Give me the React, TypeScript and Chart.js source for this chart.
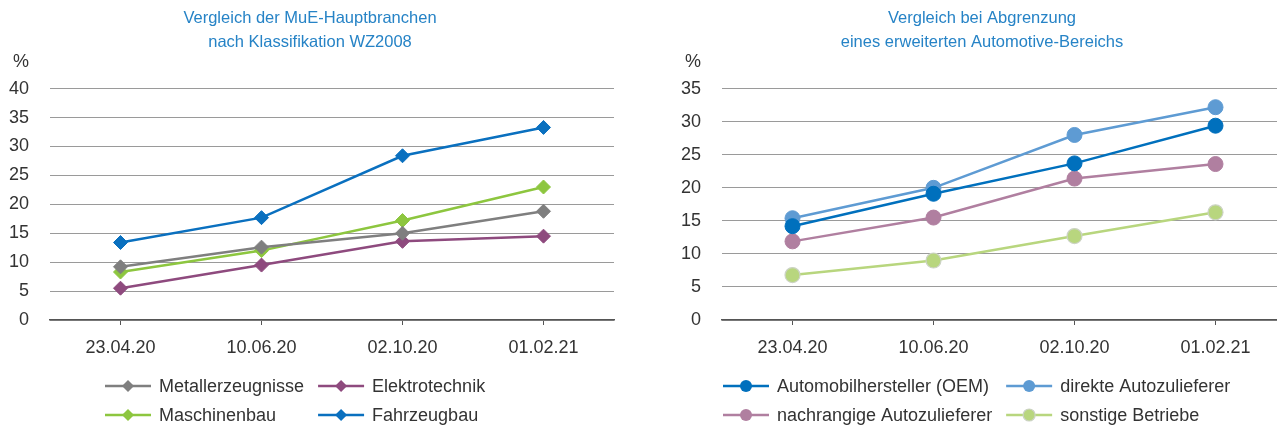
import React, { useEffect, useRef } from 'react';
import { Chart, registerables } from 'chart.js';

Chart.register(...registerables);

const dates = ['23.04.20', '10.06.20', '02.10.20', '01.02.21'];

const titleLeft = ['Vergleich der MuE-Hauptbranchen', 'nach Klassifikation WZ2008'];
const titleRight = ['Vergleich bei Abgrenzung', 'eines erweiterten Automotive-Bereichs'];

const leftMax = 40;
const rightMax = 35;
const tickStep = 5;
const unitLabel = '%';

const metallerzeugnisse = [9.2, 12.6, 15.0, 18.8];
const elektrotechnik = [5.5, 9.5, 13.6, 14.5];
const maschinenbau = [8.3, 12.0, 17.2, 23.0];
const fahrzeugbau = [13.4, 17.7, 28.4, 33.3];

const oem = [14.2, 19.1, 23.7, 29.4];
const direkte = [15.4, 20.0, 28.0, 32.2];
const nachrangige = [11.9, 15.5, 21.4, 23.6];
const sonstige = [6.8, 9.0, 12.7, 16.3];

const FONT = "'Liberation Sans', Arial, Helvetica, sans-serif";
const TEXT = '#333333';
const TITLE = '#2683C6';

type SeriesDef = { label: string; data: number[]; color: string; pointBorder?: string };

const leftSeries: SeriesDef[] = [
  { label: 'Metallerzeugnisse', data: metallerzeugnisse, color: '#7F7F7F' },
  { label: 'Elektrotechnik', data: elektrotechnik, color: '#8E4A7E' },
  { label: 'Maschinenbau', data: maschinenbau, color: '#8DC63F' },
  { label: 'Fahrzeugbau', data: fahrzeugbau, color: '#0A70BF' },
];

const rightSeries: SeriesDef[] = [
  { label: 'Automobilhersteller (OEM)', data: oem, color: '#0070BD' },
  { label: 'direkte Autozulieferer', data: direkte, color: '#5E9BD3' },
  { label: 'nachrangige Autozulieferer', data: nachrangige, color: '#B07FA0' },
  { label: 'sonstige Betriebe', data: sonstige, color: '#B8D67E', pointBorder: '#CCD3C4' },
];

function drawMarker(ctx: CanvasRenderingContext2D, style: string, x: number, y: number, r: number, color: string, border?: string) {
  ctx.beginPath();
  if (style === 'rectRot') {
    ctx.moveTo(x, y - r);
    ctx.lineTo(x + r, y);
    ctx.lineTo(x, y + r);
    ctx.lineTo(x - r, y);
    ctx.closePath();
  } else {
    ctx.arc(x, y, r, 0, Math.PI * 2);
  }
  ctx.fillStyle = color;
  ctx.fill();
  if (border) {
    ctx.lineWidth = 1.2;
    ctx.strokeStyle = border;
    ctx.stroke();
  }
}

function makeExtras(series: SeriesDef[], title: string[], pointStyle: string, legendX: number) {
  return {
    id: 'extras',
    afterDraw(chart: any) {
      const ctx: CanvasRenderingContext2D = chart.ctx;
      const area = chart.chartArea;
      ctx.save();

      // title
      ctx.font = `16.5px ${FONT}`;
      ctx.fillStyle = TITLE;
      ctx.textAlign = 'center';
      ctx.textBaseline = 'middle';
      const tcx = (area.left + area.right) / 2 - 22;
      title.forEach((line, i) => ctx.fillText(line, tcx, 18 + i * 24));

      // unit label
      ctx.font = `18px ${FONT}`;
      ctx.fillStyle = TEXT;
      ctx.textAlign = 'right';
      ctx.fillText(unitLabel, area.left - 21, area.top - 27);

      // legend: two columns, two rows
      const lineLen = 46;
      const textGap = 8;
      const colGap = 14;
      const col0Text = legendX + lineLen + textGap;
      let maxW = 0;
      series.forEach((s, i) => {
        if (i % 2 === 0) maxW = Math.max(maxW, ctx.measureText(s.label).width);
      });
      const col1Line = col0Text + maxW + colGap;
      const rowY0 = area.bottom + 66;
      const rowGap = 29;
      series.forEach((s, i) => {
        const col = i % 2;
        const row = Math.floor(i / 2);
        const lx = col === 0 ? legendX : col1Line;
        const y = rowY0 + row * rowGap;
        ctx.beginPath();
        ctx.moveTo(lx, y);
        ctx.lineTo(lx + lineLen, y);
        ctx.lineWidth = 2.5;
        ctx.strokeStyle = s.color;
        ctx.stroke();
        drawMarker(ctx, pointStyle, lx + lineLen / 2, y, 6, s.color, s.pointBorder);
        ctx.fillStyle = TEXT;
        ctx.textAlign = 'left';
        ctx.textBaseline = 'middle';
        ctx.fillText(s.label, lx + lineLen + textGap, y + 1);
      });
      ctx.restore();
    },
  };
}

function buildConfig(series: SeriesDef[], title: string[], max: number, pointStyle: string, axisWidth: number, rightPad: number, legendX: number, pointRadius: number): any {
  return {
    type: 'line',
    data: {
      labels: dates,
      datasets: series.map((s) => ({
        label: s.label,
        data: s.data,
        borderColor: s.color,
        backgroundColor: s.color,
        pointBackgroundColor: s.color,
        pointBorderColor: s.pointBorder || s.color,
        pointBorderWidth: s.pointBorder ? 1.2 : 1,
        pointStyle,
        pointRadius,
        pointHoverRadius: pointRadius,
        borderWidth: 2.5,
        tension: 0,
        fill: false,
      })),
    },
    options: {
      animation: false,
      responsive: true,
      maintainAspectRatio: false,
      layout: { padding: { left: 0, right: rightPad, top: 88.7, bottom: 68 } },
      plugins: {
        legend: { display: false },
        tooltip: { enabled: false },
        title: { display: false },
      },
      scales: {
        x: {
          type: 'category',
          offset: true,
          grid: {
            display: true,
            drawOnChartArea: false,
            drawTicks: true,
            tickLength: 5,
            color: '#555555',
            lineWidth: 1,
          },
          border: { display: true, color: '#555555', width: 1.5 },
          ticks: { padding: 12, color: TEXT, font: { family: FONT, size: 18 }, maxRotation: 0, autoSkip: false },
          afterFit: (axis: any) => {
            axis.height = 40;
          },
        },
        y: {
          min: 0,
          max,
          grid: { color: '#9A9A9A', lineWidth: 1, drawTicks: false },
          border: { display: false },
          ticks: { stepSize: tickStep, padding: 21, color: TEXT, font: { family: FONT, size: 18 } },
          afterFit: (axis: any) => {
            axis.width = axisWidth;
          },
        },
      },
    },
    plugins: [makeExtras(series, title, pointStyle, legendX)],
  };
}

function ChartBox(props: { config: any; left: number; width: number }) {
  const ref = useRef<HTMLCanvasElement | null>(null);
  useEffect(() => {
    if (!ref.current) return;
    const chart = new Chart(ref.current, props.config);
    return () => chart.destroy();
  }, []);
  return (
    <div style={{ position: 'absolute', left: props.left, top: 0, width: props.width, height: 428 }}>
      <canvas ref={ref} />
    </div>
  );
}

export default function App() {
  const leftConfig = buildConfig(leftSeries, titleLeft, leftMax, 'rectRot', 50, 26, 105, 7);
  const rightConfig = buildConfig(rightSeries, titleRight, rightMax, 'circle', 82, 14, 83, 7.5);
  return (
    <div style={{ position: 'absolute', left: 0, top: 0, width: 1277, height: 428, overflow: 'hidden', background: '#fff' }}>
      <ChartBox config={leftConfig} left={0} width={640} />
      <ChartBox config={rightConfig} left={640} width={660} />
    </div>
  );
}
